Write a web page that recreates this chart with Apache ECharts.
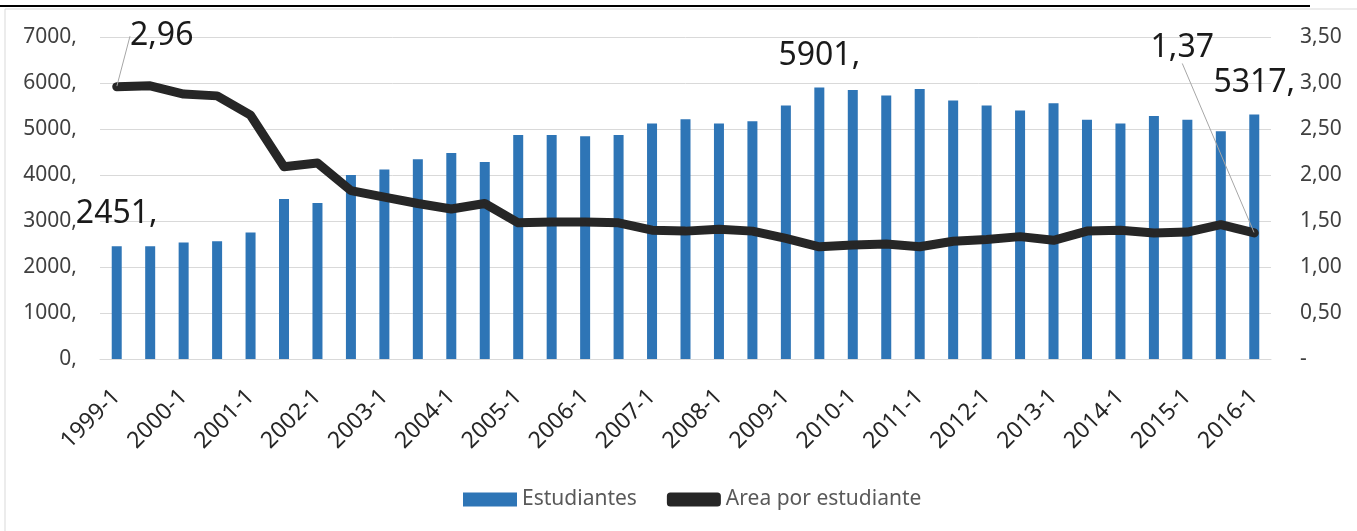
<!DOCTYPE html>
<html>
<head>
<meta charset="utf-8">
<title>Estudiantes y area por estudiante</title>
<script src="https://cdn.jsdelivr.net/npm/echarts@6/dist/echarts.min.js"></script>
<style>
  html, body { margin: 0; padding: 0; background: #fff; }
  #chart { width: 1357px; height: 531px; }
</style>
</head>
<body>
<div id="chart"></div>
<script>
// categorias (semestres)
const periodos = [
  '1999-1', '1999-2', '2000-1', '2000-2', '2001-1', '2001-2', '2002-1', '2002-2',
  '2003-1', '2003-2', '2004-1', '2004-2', '2005-1', '2005-2', '2006-1', '2006-2',
  '2007-1', '2007-2', '2008-1', '2008-2', '2009-1', '2009-2', '2010-1', '2010-2',
  '2011-1', '2011-2', '2012-1', '2012-2', '2013-1', '2013-2', '2014-1', '2014-2',
  '2015-1', '2015-2', '2016-1'
];
// Estudiantes (barras)
const estudiantes = [
  2451, 2450, 2530, 2560, 2750, 3480, 3390, 4000, 4120, 4340, 4480, 4280,
  4870, 4870, 4840, 4870, 5120, 5210, 5120, 5170, 5510, 5901, 5850, 5730,
  5870, 5620, 5510, 5400, 5560, 5200, 5120, 5280, 5200, 4950, 5317
];
// Area por estudiante (linea)
const areaPorEstudiante = [
  2.96, 2.97, 2.88, 2.86, 2.65, 2.09, 2.13, 1.83, 1.76, 1.69, 1.63, 1.69,
  1.48, 1.49, 1.49, 1.48, 1.40, 1.39, 1.41, 1.39, 1.31, 1.22, 1.24, 1.25,
  1.22, 1.28, 1.30, 1.33, 1.29, 1.39, 1.40, 1.37, 1.38, 1.46, 1.37
];
// puntos con etiqueta
const etiquetasBarras = [0, 21, 34];
const etiquetasLinea = [0, 34];

const FONT = 'Noto Sans';
const chart = echarts.init(document.getElementById('chart'));

const dataBarras = estudiantes.map((v, i) => etiquetasBarras.includes(i)
  ? { value: v, label: { show: true } }
  : v);
const dataLinea = areaPorEstudiante.map((v, i) => etiquetasLinea.includes(i)
  ? { value: v, label: { show: true } }
  : v);

const option = {
  animation: false,
  textStyle: { fontFamily: FONT },
  graphic: [
    // marco del grafico
    { type: 'line', shape: { x1: 0, y1: 6, x2: 1310, y2: 6 }, style: { stroke: '#000', lineWidth: 2 } },
    { type: 'line', shape: { x1: 5, y1: 9, x2: 1357, y2: 9 }, style: { stroke: '#d9d9d9', lineWidth: 1 } },
    { type: 'line', shape: { x1: 5, y1: 9, x2: 5, y2: 531 }, style: { stroke: '#d9d9d9', lineWidth: 1 } }
  ],
  grid: { left: 100, right: 86, top: 37, bottom: 172 },
  legend: {
    left: 458,
    top: 484,
    itemWidth: 54,
    itemHeight: 14,
    itemGap: 30,
    textStyle: { fontFamily: FONT, fontSize: 21, color: '#595959' },
    data: [
      { name: 'Estudiantes', icon: 'rect' },
      { name: 'Area por estudiante', icon: 'roundRect' }
    ]
  },
  xAxis: {
    type: 'category',
    data: periodos,
    axisTick: { show: false },
    axisLine: { lineStyle: { color: '#d9d9d9', width: 1 } },
    axisLabel: {
      interval: 1,
      rotate: 45,
      margin: 34,
      fontFamily: FONT,
      fontSize: 23,
      color: '#262626'
    }
  },
  yAxis: [
    {
      type: 'value',
      min: 0, max: 7000, interval: 1000,
      axisLine: { show: false },
      axisTick: { show: false },
      splitLine: { lineStyle: { color: '#d9d9d9', width: 1 } },
      axisLabel: {
        margin: 23,
        fontFamily: FONT, fontSize: 21, color: '#404040',
        formatter: v => v + ','
      }
    },
    {
      type: 'value',
      min: 0, max: 3.5, interval: 0.5,
      axisLine: { show: false },
      axisTick: { show: false },
      splitLine: { show: false },
      axisLabel: {
        margin: 29,
        fontFamily: FONT, fontSize: 21, color: '#404040',
        formatter: v => v === 0 ? '-' : v.toFixed(2).replace('.', ',')
      }
    }
  ],
  series: [
    {
      name: 'Estudiantes',
      type: 'bar',
      barWidth: 10,
      data: dataBarras,
      itemStyle: { color: '#2e75b6' },
      label: {
        show: false,
        position: 'top',
        distance: 16,
        fontFamily: FONT,
        fontSize: 32,
        color: '#1a1a1a',
        formatter: p => p.value + ','
      }
    },
    {
      name: 'Area por estudiante',
      type: 'line',
      yAxisIndex: 1,
      data: dataLinea,
      symbol: 'circle',
      symbolSize: 1,
      itemStyle: { color: '#262626' },
      lineStyle: { color: '#262626', width: 9, cap: 'round', join: 'round' },
      z: 5,
      label: {
        show: false,
        position: 'top',
        distance: 5,
        fontFamily: FONT,
        fontSize: 32,
        color: '#1a1a1a',
        formatter: p => p.value.toFixed(2).replace('.', ',')
      },
      labelLine: { show: true, lineStyle: { color: '#a6a6a6', width: 1 } },
      labelLayout: function (params) {
        if (params.dataIndex === 0) return { dx: 45, dy: -29 };
        if (params.dataIndex === periodos.length - 1) return { dx: -72, dy: -164 };
        return {};
      }
    }
  ]
};

chart.setOption(option);
</script>
</body>
</html>
